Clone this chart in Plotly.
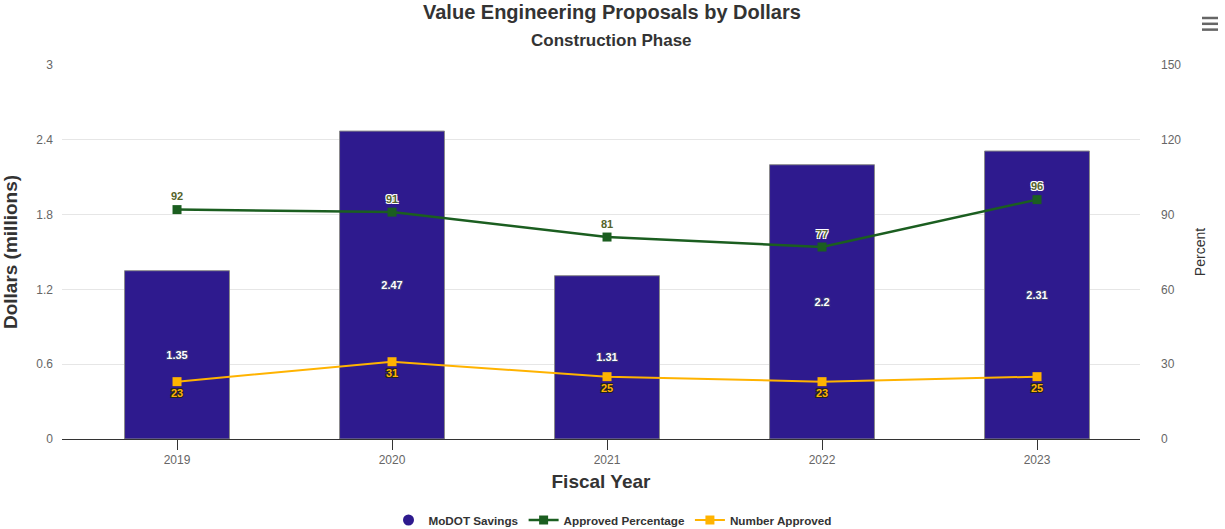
import plotly.graph_objects as go

# Fiscal years and series values
years = ["2019", "2020", "2021", "2022", "2023"]
savings_millions = [1.35, 2.47, 1.31, 2.2, 2.31]
approved_percentage = [92, 91, 81, 77, 96]
number_approved = [23, 31, 25, 23, 25]

BAR_COLOR = "#2e1a8e"
GREEN = "#1b5e20"
ORANGE = "#ffb300"
FONT = "Liberation Sans, Arial, sans-serif"

outline_dark = ("-1px -1px 0 #222, 1px -1px 0 #222, "
                "-1px 1px 0 #222, 1px 1px 0 #222")
outline_soft = ("-1px -1px 0 #3a3a7a, 1px -1px 0 #3a3a7a, "
                "-1px 1px 0 #3a3a7a, 1px 1px 0 #3a3a7a")
outline_light = ("-1px -1px 0 #fff, 1px -1px 0 #fff, "
                 "-1px 1px 0 #fff, 1px 1px 0 #fff")

fig = go.Figure()

# Savings bars on the dollar axis, value labels centred inside
fig.add_trace(go.Bar(
    x=years, y=savings_millions, name="MoDOT Savings",
    marker=dict(color=BAR_COLOR, line=dict(color="#8a8a8a", width=1)),
    text=[f"{v:g}" for v in savings_millions],
    textposition="inside", insidetextanchor="middle",
    textangle=0, constraintext="none",
    insidetextfont=dict(family=FONT, size=11, color="#ffffff",
                        weight="bold", shadow=outline_soft),
    showlegend=False, hoverinfo="x+y",
))

# Legend entry for the bars (circle symbol)
fig.add_trace(go.Scatter(
    x=[years[0]], y=[None], mode="markers", name="MoDOT Savings",
    marker=dict(symbol="circle", size=11, color=BAR_COLOR),
))

# Approved percentage line on the percent axis
fig.add_trace(go.Scatter(
    x=years, y=approved_percentage, name="Approved Percentage",
    yaxis="y2", mode="lines+markers+text",
    line=dict(color=GREEN, width=2.5),
    marker=dict(symbol="square", size=9, color=GREEN),
    text=[str(v) for v in approved_percentage],
    textposition="top center",
    textfont=dict(family=FONT, size=11, color="#55642a", weight="bold",
                  shadow=outline_light),
))

# Number approved line on the percent axis
fig.add_trace(go.Scatter(
    x=years, y=number_approved, name="Number Approved",
    yaxis="y2", mode="lines+markers+text",
    line=dict(color=ORANGE, width=2),
    marker=dict(symbol="square", size=9, color=ORANGE),
    text=[str(v) for v in number_approved],
    textposition="bottom center",
    textfont=dict(family=FONT, size=11, color=ORANGE, weight="bold",
                  shadow=outline_dark),
))

# Title and subtitle
fig.add_annotation(
    xref="paper", yref="paper", x=0.510, y=1, yshift=53, yanchor="middle",
    text="<b>Value Engineering Proposals by Dollars</b>", showarrow=False,
    font=dict(family=FONT, size=20, color="#333333"),
)
fig.add_annotation(
    xref="paper", yref="paper", x=0.510, y=1, yshift=25, yanchor="middle",
    text="<b>Construction Phase</b>", showarrow=False,
    font=dict(family=FONT, size=17, color="#333333"),
)

# Menu icon in the top-right corner
for dy in (0.966, 0.955, 0.944):
    fig.add_shape(type="line", xref="paper", yref="paper",
                  x0=1.0 + 62 / 1078, x1=1.0 + 78 / 1078,
                  y0=1 + (dy * 529 - 464) / 374, y1=1 + (dy * 529 - 464) / 374,
                  line=dict(color="#666666", width=2.5))

fig.update_layout(
    width=1225, height=529,
    margin=dict(l=62, r=85, t=65, b=90),
    paper_bgcolor="white", plot_bgcolor="white",
    font=dict(family=FONT, color="#666666", size=12),
    bargap=0.512,
    uniformtext=dict(mode=False),
    xaxis=dict(
        type="category", categoryorder="array", categoryarray=years,
        range=[-0.535, len(years) - 0.521],
        showline=True, linecolor="#333333", linewidth=1,
        ticks="outside", ticklen=10, tickcolor="#333333",
        tickfont=dict(size=12, color="#666666"),
        title=dict(text="<b>Fiscal Year</b>", standoff=8,
                   font=dict(size=19, color="#333333")),
        showgrid=False, automargin=False,
    ),
    yaxis=dict(
        range=[0, 3], dtick=0.6, tick0=0,
        showgrid=True, gridcolor="#e6e6e6", gridwidth=1,
        zeroline=False, showline=False,
        ticklabelstandoff=8, automargin=False,
        tickfont=dict(size=12, color="#666666"),
        title=dict(text="<b>Dollars (millions)</b>", standoff=14,
                   font=dict(size=19, color="#333333")),
    ),
    yaxis2=dict(
        overlaying="y", side="right",
        range=[0, 150], dtick=30, tick0=0,
        showgrid=False, zeroline=False, showline=False,
        ticklabelstandoff=20, automargin=False,
        tickfont=dict(size=12, color="#666666"),
        title=dict(text="Percent", standoff=14,
                   font=dict(size=14, color="#333333")),
    ),
    legend=dict(
        orientation="h", xref="container", yref="container",
        x=0.5, xanchor="center", y=0.017, yanchor="middle",
        font=dict(size=11.7, color="#333333", weight="bold"),
        itemwidth=30,
    ),
)

fig.write_html("out.html")
